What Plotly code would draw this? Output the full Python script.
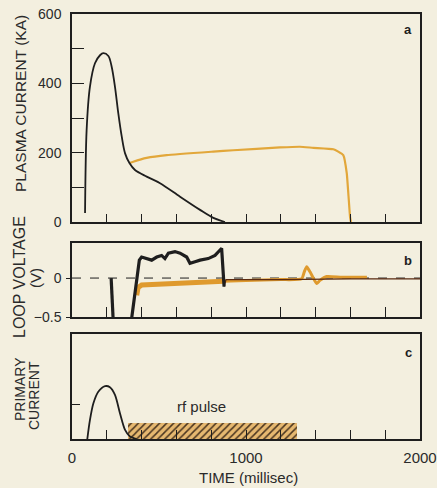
import plotly.graph_objects as go

# ---------------- data ----------------
# Panel a: plasma current (kA)
t_a_ohmic = [75, 84, 103, 132, 161, 180, 209, 228, 247, 266, 286, 305, 330, 362, 429, 506, 621, 736, 812, 879]
i_a_ohmic = [26, 265, 390, 458, 481, 487, 479, 448, 390, 314, 246, 198, 170, 150, 131, 112, 73, 35, 12, 0]

t_a_rf = [330, 352, 429, 544, 812, 927, 1195, 1310, 1387, 1502, 1530, 1559, 1579, 1588, 1598, 1603]
i_a_rf = [170, 174, 185, 193, 203, 207, 215, 217, 214, 210, 203, 193, 141, 83, 15, 0]

# Panel b: loop voltage (V)
t_b_ohmic = [225, 238, None, 338, 362, 387, 400, 429, 458, 487, 515, 534, 554, 592, 621, 659, 678, 707, 736, 783, 822, 851, 860, 874]
v_b_ohmic = [0.0, -0.6, None, -0.6, -0.2, 0.23, 0.27, 0.25, 0.23, 0.27, 0.29, 0.25, 0.32, 0.34, 0.32, 0.27, 0.19, 0.21, 0.23, 0.25, 0.29, 0.36, 0.38, -0.11]
t_b_ohmic_tail = [874, 885, 1200, 1600, 2000]
v_b_ohmic_tail = [-0.11, -0.02, -0.02, -0.01, -0.01]

t_b_rf1 = [372, 380, 400, 500, 600, 700, 800, 870]
v_b_rf1 = [-0.22, -0.12, -0.09, -0.08, -0.07, -0.06, -0.05, -0.04]
t_b_rf2 = [870, 1000, 1200, 1320, 1335, 1349, 1368, 1387, 1406, 1425, 1464, 1550, 1695]
v_b_rf2 = [-0.04, -0.03, -0.02, -0.01, 0.08, 0.145, 0.08, 0.0, -0.07, -0.03, 0.02, 0.01, 0.01]

# Panel c: primary current (arb.)
t_c = [88, 103, 123, 151, 190, 218, 247, 276, 305, 333, 372]
i_c = [0, 0.54, 1.02, 1.35, 1.51, 1.48, 1.26, 0.73, 0.26, 0.07, 0]

rf_start, rf_end, rf_height = 324, 1291, 0.45

x_ticks = list(range(0, 2001, 200))
x_labels = ["0" if v == 0 else "1000" if v == 1000 else "2000" if v == 2000 else "" for v in x_ticks]
ya_ticks = [0, 100, 200, 300, 400, 500, 600]
ya_labels = ["0", "", "200", "", "400", "", "600"]
yb_ticks = [-0.5, 0]
yb_labels = ["\u22120.5", "0"]

# ---------------- figure ----------------
BG = "#f3efdf"
ORANGE = "#e2a73a"
INK = "#1e1e1e"
TXT = "#2a2a2a"
FONT = "Liberation Sans, Arial, sans-serif"

fig = go.Figure()

fig.add_trace(go.Scatter(x=t_a_rf, y=i_a_rf, mode="lines", line=dict(color=ORANGE, width=2.2, shape="spline", smoothing=0.4),
                         xaxis="x", yaxis="y", showlegend=False))
fig.add_trace(go.Scatter(x=t_a_ohmic, y=i_a_ohmic, mode="lines", line=dict(color=INK, width=1.8, shape="spline", smoothing=0.9),
                         xaxis="x", yaxis="y", showlegend=False))

fig.add_trace(go.Scatter(x=t_b_rf1, y=v_b_rf1, mode="lines", line=dict(color="#df9a2e", width=5),
                         xaxis="x2", yaxis="y2", showlegend=False))
fig.add_trace(go.Scatter(x=t_b_rf2, y=v_b_rf2, mode="lines", line=dict(color="#df9a2e", width=3, shape="spline", smoothing=0.5),
                         xaxis="x2", yaxis="y2", showlegend=False))
fig.add_trace(go.Scatter(x=t_b_ohmic_tail, y=v_b_ohmic_tail, mode="lines", line=dict(color="#5a2a10", width=1.3),
                         xaxis="x2", yaxis="y2", showlegend=False))
fig.add_trace(go.Scatter(x=t_b_ohmic, y=v_b_ohmic, mode="lines", line=dict(color=INK, width=3.2),
                         xaxis="x2", yaxis="y2", showlegend=False, connectgaps=False))

fig.add_trace(go.Bar(x=[(rf_start + rf_end) / 2], y=[rf_height], width=[rf_end - rf_start], base=0,
                     marker=dict(color="#e4b46a", line=dict(width=0),
                                 pattern=dict(shape="/", fillmode="replace", bgcolor="#e6b870", fgcolor="#4a3520",
                                              size=5, solidity=0.3)),
                     xaxis="x3", yaxis="y3", showlegend=False))
fig.add_trace(go.Scatter(x=t_c, y=i_c, mode="lines", line=dict(color=INK, width=1.8, shape="spline", smoothing=0.8),
                         xaxis="x3", yaxis="y3", showlegend=False))

axis_common = dict(range=[0, 2000], showline=True, mirror=True, linecolor=INK, linewidth=1.5,
                   showgrid=False, zeroline=False, ticks="inside", tickcolor=INK, tickwidth=1.3,
                   tickvals=x_ticks, automargin=False)
yaxis_common = dict(showline=True, mirror=True, linecolor=INK, linewidth=1.5, showgrid=False,
                    zeroline=False, tickcolor=INK, tickwidth=1.3, automargin=False)

PT, PB, PL, PR = 14, 439, 72, 420


def dom(top_px, bottom_px):
    return [(PB - bottom_px) / (PB - PT), (PB - top_px) / (PB - PT)]


fig.update_layout(
    width=437, height=488,
    margin=dict(l=PL, r=437 - PR, t=PT, b=488 - PB),
    paper_bgcolor=BG, plot_bgcolor=BG,
    font=dict(family=FONT, color=TXT, size=14),
    bargap=0,
    xaxis=dict(**axis_common, anchor="y", ticklen=8, showticklabels=False),
    xaxis2=dict(**axis_common, anchor="y2", ticklen=10, showticklabels=False),
    xaxis3=dict(**axis_common, anchor="y3", ticklen=9, ticktext=x_labels,
                tickfont=dict(size=15), ticklabelstandoff=4),
    yaxis=dict(**yaxis_common, domain=dom(14, 222), range=[0, 600], anchor="x", ticks="inside", ticklen=12,
               tickvals=ya_ticks, ticktext=ya_labels, tickfont=dict(size=14), ticklabelstandoff=6),
    yaxis2=dict(**yaxis_common, domain=dom(243, 317), range=[-0.5, 0.45], anchor="x2", ticks="outside", ticklen=4,
                tickvals=yb_ticks, ticktext=yb_labels, tickfont=dict(size=14), ticklabelstandoff=2),
    yaxis3=dict(**yaxis_common, domain=dom(334, 439), range=[0, 3], anchor="x3", ticks="inside", ticklen=8,
                tickvals=[1], ticktext=[""]),
)

fig.add_shape(type="line", xref="x2", yref="y2", x0=0, x1=2000, y0=0, y1=0,
              line=dict(color=INK, width=1, dash="dash"), layer="below")


def px(x):
    return (x - PL) / (PR - PL)


def py(y):
    return (PB - y) / (PB - PT)


ann = [
    dict(text="PLASMA CURRENT (KA)", x=20, y=104, textangle=-90, size=15.5),
    dict(text="LOOP VOLTAGE", x=19, y=277, textangle=-90, size=16),
    dict(text="(V)", x=36, y=278, textangle=-90, size=15),
    dict(text="PRIMARY", x=20, y=389, textangle=-90, size=14),
    dict(text="CURRENT", x=34, y=396, textangle=-90, size=14),
    dict(text="TIME (millisec)", x=248, y=477, textangle=0, size=15),
]
for a in ann:
    fig.add_annotation(text=a["text"], xref="paper", yref="paper", x=px(a["x"]), y=py(a["y"]),
                       xanchor="center", yanchor="middle", textangle=a["textangle"], showarrow=False,
                       font=dict(size=a["size"], family=FONT, color=TXT))

for letter, ypix in [("a", 30), ("b", 260), ("c", 352)]:
    fig.add_annotation(text="<b>%s</b>" % letter, xref="paper", yref="paper", x=px(408), y=py(ypix),
                       xanchor="center", yanchor="middle", showarrow=False,
                       font=dict(size=13, family=FONT, color=INK))

fig.add_annotation(text="rf pulse", xref="x3", yref="y3", x=745, y=0.92, showarrow=False,
                   xanchor="center", yanchor="middle", font=dict(size=15, family=FONT, color=TXT))

fig.write_html("out.html", config={"displayModeBar": False},
               post_script="document.body.style.margin='0';document.body.style.background='%s';" % BG)
